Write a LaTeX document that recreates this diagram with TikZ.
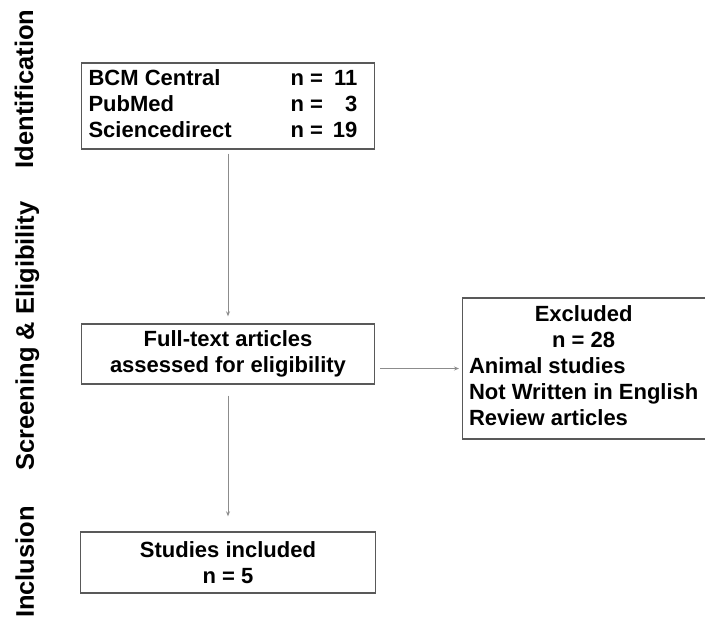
\documentclass[tikz,border=0pt]{standalone}
\usepackage{fontspec}
\setmainfont{Liberation Sans}
\usetikzlibrary{arrows.meta}

\begin{document}
\begin{tikzpicture}[x=1pt, y=-1pt,
        caja/.style={draw=black!65, line width=1.4pt, inner sep=0pt, font=\fontsize{22}{26}\selectfont\bfseries},
        flecha/.style={draw=black!45, line width=0.9pt, -{Stealth[length=5pt,width=4pt]}},
        etapa/.style={rotate=90, anchor=base, font=\fontsize{25.5}{28}\selectfont\bfseries}]

        % Marco
        \useasboundingbox (0,0) rectangle (705,619);

        % Etapas a la izquierda
        \node[etapa] (ident) at (33,89) {Identification};
        \node[etapa] (cribado) at (34,336) {Screening \& Eligibility};
        \node[etapa] (inclu) at (34,562) {Inclusion};

        % Bases de datos consultadas
        \node[caja, minimum width=293pt, minimum height=86pt] (bases) at (228,106) {%
            \begin{tabular}{@{}p{202pt}@{}l@{\hspace{10pt}}r@{\hspace{10pt}}}
                BCM Central & n = & 11\\
                PubMed & n = & 3\\
                Sciencedirect & n = & 19
            \end{tabular}};

        % Articulos evaluados
        \node[caja, minimum width=293pt, minimum height=60pt, align=center] (texto) at (228,354) {Full-text articles\\assessed for eligibility};

        % Articulos excluidos
        \node[caja, minimum width=252pt, minimum height=141pt, anchor=west] (excl) at (462,368.5) {%
            \begin{tabular}{@{\hspace{6pt}}l@{\hspace{16pt}}}
                \multicolumn{1}{@{\hspace{6pt}}c@{\hspace{16pt}}}{Excluded}\\
                \multicolumn{1}{@{\hspace{6pt}}c@{\hspace{16pt}}}{n = 28}\\
                Animal studies\\
                Not Written in English\\
                Review articles
            \end{tabular}};

        % Estudios incluidos
        \node[caja, minimum width=295pt, minimum height=61pt, align=center] (incl) at (228,562.5) {Studies included\\n = 5};

        % Flechas
        \draw[flecha, shorten <=4pt, shorten >=7pt] (bases) -- (texto);
        \draw[flecha, shorten <=5pt, shorten >=3pt] (texto.east |- excl.west) -- (excl.west);
        \draw[flecha, shorten <=11pt, shorten >=15pt] (texto) -- (incl);
    \end{tikzpicture}
\end{document}
